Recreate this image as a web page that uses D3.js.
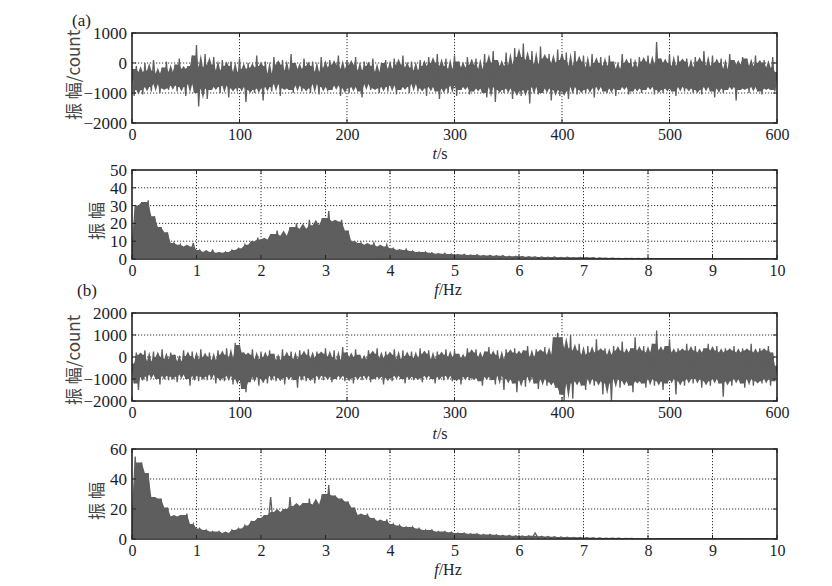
<!DOCTYPE html>
<html><head><meta charset="utf-8">
<script src="https://cdn.jsdelivr.net/npm/d3@7"></script>
<style>
html,body{margin:0;padding:0;background:#fff;}
svg{display:block;}
</style></head>
<body>
<svg id="chart" width="832" height="586"></svg>
<script>
// ---------- data ----------
const timeStep = 2;      // s between samples
const freqStep = 0.05;   // Hz between samples
const timeTicks = [0,100,200,300,400,500,600];
const freqTicks = [0,1,2,3,4,5,6,7,8,9,10];
const ampTicksA = [-2000,-1000,0,1000];
const specTicksA = [0,10,20,30,40,50];
const ampTicksB = [-2000,-1000,0,1000,2000];
const specTicksB = [0,20,40,60];
const panelTags = ["(a)","(b)"];
const yLabelTime = "振 幅/count";
const yLabelSpec = "振 幅";

const signalA = [
-200,-1100,-100,-900,-300,-1050,0,-800,-250,-950,100,-700,-350,-1000,-150,-850,50,-900,-300,-750,
-50,-950,150,-800,-200,-1100,-100,-700,250,-1000,600,-1450,-150,-850,300,-1200,-50,-900,200,-800,
-250,-1000,100,-750,-100,-1150,50,-850,-300,-950,150,-800,-200,-1300,0,-900,-150,-1000,250,-850,
-100,-1250,50,-800,-350,-950,200,-700,-50,-1100,100,-850,-250,-900,300,-1000,0,-750,-200,-950,
150,-850,-100,-1000,50,-700,-300,-1050,200,-800,-150,-950,100,-900,-50,-750,250,-1100,-200,-850,
100,-1000,-50,-800,200,-950,-250,-1150,50,-700,-100,-900,150,-850,-300,-1000,0,-800,100,-950,
-200,-750,150,-1050,-50,-900,250,-800,-150,-1000,50,-700,-250,-950,100,-850,-100,-1100,200,-800,
0,-950,300,-1200,-100,-850,150,-1000,-200,-750,250,-1100,50,-900,-150,-800,200,-1050,-50,-950,
150,-850,-200,-1000,300,-1150,0,-800,400,-1300,100,-900,-100,-1000,350,-850,-50,-1200,500,-950,
200,-1100,650,-900,100,-1350,400,-800,-50,-1050,550,-1000,150,-850,300,-1250,0,-900,450,-1100,
100,-950,350,-1200,-100,-800,400,-1050,50,-900,250,-1000,-150,-850,300,-1150,0,-800,200,-950,
-100,-1000,250,-850,50,-1100,-200,-900,300,-800,0,-1050,150,-950,-150,-850,200,-1000,50,-900,
250,-800,-50,-1050,700,-900,150,-1000,0,-850,300,-950,-100,-1100,250,-800,50,-950,150,-850,
-150,-1000,200,-900,50,-1050,400,-800,-100,-950,250,-1150,0,-850,150,-1000,-200,-900,300,-800,
100,-1250,-50,-900,200,-850,150,-1000,-100,-800,250,-950,0,-1050,100,-850,-150,-900,200,-950,
-300];

const spectrumA = [
3,30,8,32,6,33,10,24,5,18,4,15,3,9,2,8,1.5,7,2,9,
1.5,5,1,4,2,5,1,3.5,1.5,4,1,5,2,6,1.5,8,2.5,10,3,12,
2,11,3,14,2.5,16,4,13,3,18,2,20,4,17,3,22,5,19,3,23,
4,27,5,21,3,22,4,16,2.5,10,3,9,2,8,3,9,2,7,1.5,8,
1.5,6,2,5,1,5.5,1.5,4.5,1,4,1.5,4,1,3.5,1.2,3,1,3.2,0.8,2.8,
1,2.5,0.8,2.6,1,2.2,0.7,2.4,0.9,2,0.6,2.1,0.8,1.8,0.6,1.9,0.7,1.6,0.5,1.5,
0.6,1.4,0.5,1.3,0.6,1.2,0.4,1.1,0.5,1.0,0.4,1.1,0.3,0.9,0.4,1.0,0.3,0.8,0.4,0.9,
0.3,0.8,0.3,0.7,0.2,0.6,0.3,0.5,0.2,0.5,0.2,0.4,0.1,0.4,0.2,0.3,0.1,0.3,0.1,0.3,
0.1,0.2,0.1,0.25,0.1,0.2,0.05,0.2,0.1,0.2,0.05,0.2,0.1,0.15,0.05,0.2,0.1,0.15,0.05,0.2,
0.1,0.15,0.05,0.2,0.1,0.15,0.05,0.15,0.1,0.2,0.05,0.15,0.1,0.15,0.05,0.2,0.1,0.15,0.05,0.15,
0.1];

const signalB = [
-300,-1200,200,-1500,100,-900,300,-1100,-200,-800,250,-1000,0,-1250,350,-850,-100,-1050,200,-900,
100,-1150,-200,-800,300,-1000,50,-1300,250,-850,-100,-1100,350,-900,0,-1050,200,-800,-150,-1200,
300,-950,100,-1100,400,-850,-50,-1250,650,-1000,550,-1450,200,-1600,100,-1150,350,-900,-100,-1300,
250,-1000,0,-1200,300,-850,150,-1100,-150,-950,350,-1250,50,-900,250,-1050,-100,-1400,300,-850,
100,-1100,350,-950,-50,-1200,250,-850,150,-1050,400,-900,0,-1150,300,-1000,-150,-850,450,-1100,
200,-950,0,-1200,350,-900,100,-1050,-100,-850,300,-1150,150,-1000,400,-900,-50,-1250,250,-950,
100,-1100,350,-850,-100,-1000,300,-1200,50,-900,250,-1050,-50,-950,400,-1150,150,-850,300,-1000,
-100,-1200,250,-900,100,-1050,350,-850,0,-1100,300,-1000,150,-1250,-50,-900,400,-1050,200,-950,
350,-1100,0,-1300,250,-900,450,-1050,100,-1250,300,-850,-100,-1500,350,-1000,200,-1200,400,-1600,
150,-1050,300,-1350,500,-900,0,-1200,350,-1450,250,-1000,450,-1300,100,-1150,900,-1400,1100,-1700,
900,-2000,400,-1200,1000,-1900,300,-1100,600,-1300,100,-1500,500,-1000,200,-1300,800,-1100,300,-1700,
400,-1200,100,-2000,500,-1000,300,-1400,700,-1100,200,-1300,400,-1600,900,-1100,300,-1200,500,-1400,
200,-1000,600,-1300,1200,-1100,300,-1500,500,-1200,800,-1000,200,-1700,400,-1100,300,-1300,600,-1000,
300,-1200,500,-1000,200,-1400,400,-1100,600,-1300,300,-1000,500,-1200,200,-1800,400,-1100,300,-1300,
500,-1000,200,-1200,400,-1400,300,-1000,600,-1300,200,-1100,400,-1200,300,-1000,500,-1300,200,-1100,
-400];

const spectrumB = [
8,55,10,51,6,44,9,28,5,27,4,21,6,15,3,16,4,17,3,10,
2,7,1.5,6,2,5,1,5,2,4,1.5,6,2,7,3,9,2,12,4,14,
3,16,5,28,4,18,6,20,3,28,5,22,7,24,4,27,6,23,5,30,
7,36,6,29,8,27,5,25,6,21,4,16,5,17,3,14,4,12,3,13,
3,10,2,9,2.5,8,2,8,1.5,7,2,6,1.5,6,1,5,1.5,5,1,4.5,
1.5,4,1,4,1.2,3.5,1,3.5,0.8,3,1,3,0.8,2.8,0.7,2.5,0.8,2.4,0.6,2.2,
0.7,2,0.6,2.2,0.5,4,0.6,1.8,0.5,1.6,0.4,1.5,0.5,1.3,0.4,1.2,0.3,1.1,0.4,1,
0.3,0.9,0.3,0.8,0.2,0.7,0.3,0.6,0.2,0.5,0.2,0.5,0.1,0.4,0.2,0.4,0.1,0.3,0.1,0.3,
0.1,0.2,0.1,0.25,0.1,0.2,0.05,0.2,0.1,0.2,0.05,0.2,0.1,0.15,0.05,0.2,0.1,0.15,0.05,0.2,
0.1,0.15,0.05,0.2,0.1,0.15,0.05,0.15,0.1,0.2,0.05,0.15,0.1,0.15,0.05,0.2,0.1,0.15,0.05,0.15,
0.1];

// ---------- layout ----------
const svg = d3.select("#chart");
const X0 = 132, X1 = 777;
const serif = "'Liberation Serif','Times New Roman',serif";
const cjk = "'Noto Sans CJK SC','Noto Sans CJK JP',sans-serif";
const tickColor = "#1c1c2c";
const lineColor = "#5e5e5e";

const panels = [
  {y0:33,  y1:123, xDom:[0,600], yDom:[-2000,1000], xt:timeTicks, yt:ampTicksA,  data:signalA,   step:timeStep, spec:false, xTitle:"t", xUnit:"/s",  xTitleX:440, xTitleY:159, yLabel:yLabelTime, yLabX:72, yLabY:75},
  {y0:170, y1:259, xDom:[0,10],  yDom:[0,50],       xt:freqTicks, yt:specTicksA, data:spectrumA, step:freqStep, spec:true,  xTitle:"f", xUnit:"/Hz", xTitleX:448, xTitleY:295, yLabel:yLabelSpec, yLabX:95, yLabY:221},
  {y0:313, y1:401, xDom:[0,600], yDom:[-2000,2000], xt:timeTicks, yt:ampTicksB,  data:signalB,   step:timeStep, spec:false, xTitle:"t", xUnit:"/s",  xTitleX:440, xTitleY:439, yLabel:yLabelTime, yLabX:72, yLabY:360},
  {y0:449, y1:539, xDom:[0,10],  yDom:[0,60],       xt:freqTicks, yt:specTicksB, data:spectrumB, step:freqStep, spec:true,  xTitle:"f", xUnit:"/Hz", xTitleX:448, xTitleY:575, yLabel:yLabelSpec, yLabX:95, yLabY:501}
];

const defs = svg.append("defs");

// dense core of the trace: between 2nd-lowest and 2nd-highest sample of a local window
function coreBand(data) {
  return data.map((d, i) => {
    const w = data.slice(Math.max(0, i - 2), Math.min(data.length, i + 3)).slice().sort(d3.ascending);
    const lo = w.length > 2 ? w[1] : w[0];
    const hi = w.length > 2 ? w[w.length - 2] : w[w.length - 1];
    return {i, lo, hi};
  });
}

panels.forEach((p, pi) => {
  const x = d3.scaleLinear().domain(p.xDom).range([X0, X1]);
  const y = d3.scaleLinear().domain(p.yDom).range([p.y1, p.y0]);
  const g = svg.append("g");

  // grid (dotted)
  g.append("g").selectAll("line").data(p.xt.slice(1, -1)).join("line")
    .attr("x1", d => x(d)).attr("x2", d => x(d)).attr("y1", p.y0).attr("y2", p.y1)
    .attr("stroke", "#333").attr("stroke-width", 1).attr("stroke-dasharray", "1.2,1.8");
  g.append("g").selectAll("line").data(p.yt.slice(1, -1)).join("line")
    .attr("y1", d => y(d)).attr("y2", d => y(d)).attr("x1", X0).attr("x2", X1)
    .attr("stroke", "#333").attr("stroke-width", 1).attr("stroke-dasharray", "1.2,1.8");

  // data
  const cid = "clip" + pi;
  defs.append("clipPath").attr("id", cid).append("rect")
    .attr("x", X0).attr("y", p.y0).attr("width", X1 - X0).attr("height", p.y1 - p.y0);
  const band = coreBand(p.data);
  const area = d3.area().x(d => x(d.i * p.step))
    .y0(d => y(p.spec ? Math.min(d.lo, p.yDom[0] + 0.6) : d.lo))
    .y1(d => y(d.hi));
  g.append("path").datum(band).attr("clip-path", `url(#${cid})`)
    .attr("d", area).attr("fill", lineColor).attr("stroke", "none");
  const line = d3.line().x((d, i) => x(i * p.step)).y(d => y(d));
  g.append("path").datum(p.data).attr("clip-path", `url(#${cid})`)
    .attr("d", line).attr("fill", "none").attr("stroke", lineColor)
    .attr("stroke-width", 1.3).attr("stroke-linejoin", "miter");

  // inward tick marks on all four sides
  const tl = 4;
  const tk = g.append("g").attr("stroke", "#222").attr("stroke-width", 1);
  p.xt.forEach(v => {
    tk.append("line").attr("x1", x(v)).attr("x2", x(v)).attr("y1", p.y1).attr("y2", p.y1 - tl);
    tk.append("line").attr("x1", x(v)).attr("x2", x(v)).attr("y1", p.y0).attr("y2", p.y0 + tl);
  });
  p.yt.forEach(v => {
    tk.append("line").attr("y1", y(v)).attr("y2", y(v)).attr("x1", X0).attr("x2", X0 + tl);
    tk.append("line").attr("y1", y(v)).attr("y2", y(v)).attr("x1", X1).attr("x2", X1 - tl);
  });

  // frame
  g.append("rect").attr("x", X0).attr("y", p.y0).attr("width", X1 - X0).attr("height", p.y1 - p.y0)
    .attr("fill", "none").attr("stroke", "#222").attr("stroke-width", 1.6);

  // axes labels via d3 axes (labels only)
  const xa = g.append("g").attr("transform", `translate(0,${p.y1})`)
    .call(d3.axisBottom(x).tickValues(p.xt).tickSize(0).tickPadding(6).tickFormat(d3.format("d")));
  const ya = g.append("g").attr("transform", `translate(${X0},0)`)
    .call(d3.axisLeft(y).tickValues(p.yt).tickSize(0).tickPadding(5).tickFormat(d3.format("d")));
  xa.select(".domain").remove();
  ya.select(".domain").remove();
  xa.selectAll("text").attr("font-family", serif).attr("font-size", 16).attr("fill", tickColor);
  ya.selectAll("text").attr("font-family", serif).attr("font-size", 17).attr("fill", tickColor);

  // x title
  const xt = g.append("text").attr("x", p.xTitleX).attr("y", p.xTitleY)
    .attr("text-anchor", "middle").attr("font-family", serif).attr("font-size", 16).attr("fill", tickColor);
  xt.append("tspan").attr("font-style", "italic").text(p.xTitle);
  xt.append("tspan").text(p.xUnit);

  // y title (rotated)
  g.append("text").attr("transform", `translate(${p.yLabX},${p.yLabY}) rotate(-90)`)
    .attr("text-anchor", "middle").attr("dominant-baseline", "central")
    .attr("font-family", cjk).attr("font-size", 17).attr("fill", "#444")
    .text(p.yLabel);
});

// panel tags
svg.append("text").attr("x", 72).attr("y", 26).attr("font-family", serif).attr("font-size", 17)
  .attr("fill", tickColor).text(panelTags[0]);
svg.append("text").attr("x", 77).attr("y", 296).attr("font-family", serif).attr("font-size", 17)
  .attr("fill", tickColor).text(panelTags[1]);
</script>
</body></html>
